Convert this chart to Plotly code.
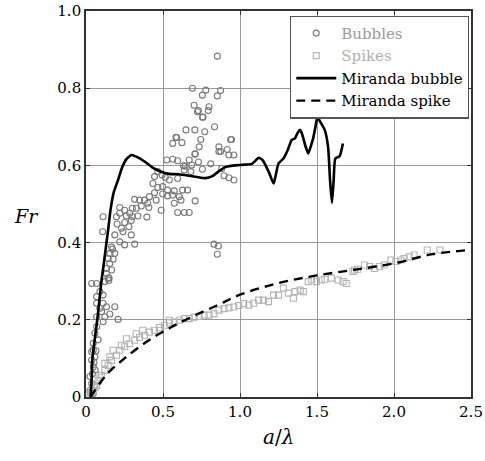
import plotly.graph_objects as go

# Bubbles (experimental)
bubble_a = [0.702,0.724,0.760,0.799,0.835,0.707,0.771,0.649,0.589,0.563,0.623,0.745,0.735,0.707,0.863,0.917,0.945,0.874,0.928,0.960,
            0.524,0.563,0.595,0.670,0.633,0.638,0.681,0.756,0.810,0.881,0.896,0.928,0.960,0.445,0.466,0.494,0.515,0.541,0.595,
            0.434,0.466,0.498,0.530,0.573,0.627,0.659,0.445,0.498,0.530,0.563,0.606,0.412,0.380,0.456,0.617,0.709,0.348,0.316,
            0.401,0.573,0.408,0.359,0.327,0.301,0.488,0.595,0.638,0.670,0.219,0.251,0.284,0.219,0.262,0.301,0.337,0.395,0.111,
            0.198,0.202,0.251,0.294,0.230,0.279,0.108,0.187,0.240,0.294,0.219,0.251,0.316,0.831,0.859,0.853,0.166,0.172,0.155,
            0.187,0.144,0.176,0.155,0.133,0.166,0.133,0.144,0.150,0.122,0.148,0.037,0.069,0.090,0.111,0.069,
            0.853,0.691,0.778,0.874,0.756,0.853,0.730,0.794,0.756,0.584,0.939,0.863,0.709,0.730,0.644,0.687,
            0.069,0.111,0.090,0.133,0.101,0.187,0.155,0.122,0.069,0.208,0.111,0.069,0.058,0.079,0.047,0.037,0.058,
            0.047,0.037,0.047,0.026,0.037,0.026,0.047,0.060,0.055,0.030,0.042,0.065,0.052]
bubble_fr = [0.756,0.739,0.725,0.752,0.700,0.692,0.687,0.692,0.672,0.657,0.659,0.667,0.648,0.629,0.648,0.641,0.667,0.636,0.627,0.627,
             0.614,0.616,0.612,0.614,0.599,0.588,0.584,0.590,0.604,0.592,0.573,0.568,0.562,0.571,0.584,0.575,0.569,0.562,0.566,
             0.553,0.543,0.545,0.536,0.534,0.536,0.536,0.529,0.526,0.521,0.523,0.519,0.519,0.510,0.510,0.510,0.508,0.510,0.512,
             0.502,0.502,0.491,0.495,0.489,0.489,0.484,0.478,0.478,0.478,0.491,0.484,0.476,0.476,0.469,0.467,0.469,0.466,0.467,
             0.467,0.448,0.452,0.457,0.437,0.441,0.428,0.420,0.428,0.420,0.402,0.394,0.396,0.396,0.391,0.370,0.389,0.383,0.372,
             0.372,0.359,0.357,0.346,0.333,0.329,0.320,0.308,0.308,0.299,0.302,0.294,0.294,0.273,0.264,0.260,
             0.883,0.800,0.795,0.794,0.782,0.780,0.742,0.742,0.725,0.673,0.667,0.636,0.630,0.609,0.598,0.601,
             0.243,0.243,0.230,0.234,0.221,0.234,0.215,0.208,0.208,0.201,0.195,0.182,0.165,0.148,0.139,0.117,0.104,
             0.122,0.096,0.078,0.053,0.035,0.017,0.009,0.070,0.030,0.010,0.060,0.120,0.090]

# Spikes (experimental)
spike_a = [0.026,0.047,0.069,0.079,0.101,0.122,0.144,0.166,0.198,0.219,0.251,0.284,0.316,0.348,0.380,0.412,0.445,0.477,0.509,0.541,
           0.573,0.606,0.638,0.670,0.702,0.735,0.767,0.799,0.831,0.863,0.896,0.928,0.960,0.992,1.024,0.369,0.326,0.262,0.230,
           0.176,0.155,0.122,0.541,0.477,0.035,0.058,0.090,
           1.057,1.089,1.121,1.153,1.185,1.218,1.250,1.282,1.314,1.347,1.357,1.390,1.411,1.443,1.465,1.497,1.529,1.551,1.593,
           1.637,1.669,1.690,1.733,1.744,1.765,1.809,1.841,1.873,1.905,1.937,1.980,2.012,2.045,2.066,2.099,2.131,2.216,2.298]
spike_fr = [0.006,0.017,0.030,0.043,0.056,0.069,0.082,0.095,0.108,0.121,0.130,0.138,0.147,0.154,0.160,0.168,0.173,0.180,0.186,0.192,
            0.194,0.199,0.203,0.203,0.207,0.209,0.212,0.212,0.216,0.225,0.229,0.231,0.233,0.237,0.242,0.173,0.164,0.151,0.134,
            0.121,0.104,0.087,0.199,0.173,0.012,0.025,0.050,
            0.238,0.243,0.251,0.251,0.247,0.264,0.264,0.282,0.269,0.256,0.273,0.277,0.273,0.299,0.303,0.299,0.303,0.305,0.308,
            0.303,0.299,0.294,0.325,0.329,0.331,0.342,0.338,0.333,0.338,0.342,0.355,0.351,0.355,0.359,0.363,0.368,0.381,0.381]

# Miranda bubble (simulation)
mb_a = [0.030,0.037,0.041,0.057,0.073,0.087,0.101,0.117,0.133,0.146,0.159,0.180,0.208,0.235,0.260,0.294,0.330,0.380,0.430,0.480,
        0.540,0.600,0.660,0.720,0.777,0.820,0.860,0.900,0.928,0.970,1.030,1.078,1.100,1.121,1.140,1.153,1.190,1.218,1.235,1.250,
        1.282,1.310,1.336,1.357,1.375,1.390,1.405,1.425,1.443,1.460,1.475,1.490,1.503,1.525,1.550,1.572,1.585,1.597,1.608,1.619,
        1.647,1.668]
mb_fr = [0.000,0.050,0.096,0.150,0.200,0.250,0.303,0.350,0.400,0.440,0.484,0.530,0.562,0.595,0.615,0.627,0.622,0.610,0.595,0.585,
         0.578,0.577,0.574,0.570,0.567,0.572,0.584,0.595,0.598,0.600,0.602,0.604,0.612,0.620,0.616,0.610,0.580,0.553,0.580,0.605,
         0.618,0.640,0.666,0.670,0.685,0.692,0.679,0.650,0.631,0.650,0.670,0.700,0.725,0.710,0.692,0.648,0.560,0.503,0.560,0.618,
         0.624,0.657]

# Miranda spike (simulation)
ms_a = [0.030,0.080,0.150,0.250,0.400,0.550,0.700,0.850,1.000,1.250,1.500,1.750,2.000,2.250,2.500]
ms_fr = [0.000,0.030,0.065,0.100,0.145,0.180,0.210,0.237,0.265,0.295,0.315,0.330,0.346,0.370,0.381]

x_ticks = [0, 0.5, 1.0, 1.5, 2.0, 2.5]
x_labels = ["0", "0.5", "1.0", "1.5", "2.0", "2.5"]
y_ticks = [0, 0.2, 0.4, 0.6, 0.8, 1.0]
y_labels = ["0", "0.2", "0.4", "0.6", "0.8", "1.0"]

FONT = "DejaVu Serif"

fig = go.Figure()
fig.add_trace(go.Scatter(x=bubble_a, y=bubble_fr, mode="markers",
                         name="<span style='color:#9a9a9a'>Bubbles</span>",
                         marker=dict(symbol="circle-open", size=6, color="#7a7a7a", line=dict(width=1.1))))
fig.add_trace(go.Scatter(x=spike_a, y=spike_fr, mode="markers",
                         name="<span style='color:#b0b0b0'>Spikes</span>",
                         marker=dict(symbol="square-open", size=6, color="#b4b4b4", line=dict(width=1.1))))
fig.add_trace(go.Scatter(x=mb_a, y=mb_fr, mode="lines", name="Miranda bubble",
                         line=dict(color="black", width=2.6, shape="spline", smoothing=0.5)))
fig.add_trace(go.Scatter(x=ms_a, y=ms_fr, mode="lines", name="Miranda spike",
                         line=dict(color="black", width=2.4, dash="9px,6px", shape="spline")))

axis_common = dict(showgrid=True, gridcolor="#9a9a9a", gridwidth=1, zeroline=False,
                   showline=True, linecolor="#333333", linewidth=1.6, mirror="ticks",
                   ticks="inside", ticklen=4, tickcolor="#333333", automargin=False,
                   ticklabeloverflow="allow",
                   tickfont=dict(family=FONT, size=15, color="black"))

fig.update_xaxes(range=[0, 2.5], tickvals=x_ticks, ticktext=x_labels, **axis_common)
fig.update_yaxes(range=[0, 1.0], tickvals=y_ticks, ticktext=y_labels, **axis_common)

fig.update_layout(
    width=485, height=461,
    margin=dict(l=86, r=14, t=11, b=64),
    paper_bgcolor="white", plot_bgcolor="white",
    font=dict(family=FONT, color="black"),
    showlegend=True,
    legend=dict(x=0.995, y=0.988, xanchor="right", yanchor="top",
                bgcolor="white", bordercolor="#555555", borderwidth=1.2,
                font=dict(family=FONT, size=15, color="black"),
                tracegroupgap=0, itemwidth=40),
    annotations=[
        dict(text="<i>Fr</i>", x=0, xref="paper", xanchor="right", xshift=-45,
             y=0.47, yref="paper", yanchor="middle", showarrow=False,
             font=dict(family=FONT, size=19, color="black")),
        dict(text="<i>a</i>/<i>λ</i>", x=0.5, xref="paper", xanchor="center",
             y=0, yref="paper", yanchor="top", yshift=-26, showarrow=False,
             font=dict(family=FONT, size=20, color="black")),
    ],
)

fig.write_html("out.html")
